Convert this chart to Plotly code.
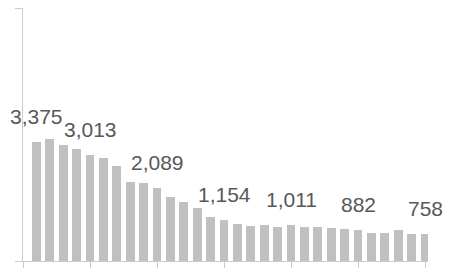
import plotly.graph_objects as go

positions = list(range(1, 31))
values = [3375, 3467, 3313, 3199, 3013, 2934, 2715, 2259, 2214, 2089,
          1823, 1681, 1519, 1245, 1154, 1046, 997, 1017, 969, 1011,
          977, 977, 932, 903, 882, 806, 798, 883, 769, 758]
label_positions = [1, 5, 10, 15, 20, 25, 30]
y_max = 7200
x_ticks = [0, 5, 10, 15, 20, 25, 30]

fig = go.Figure()
fig.add_trace(go.Bar(
    x=positions, y=values, width=0.65,
    marker=dict(color="#c0c0c0", line=dict(width=0)),
    hoverinfo="skip",
))

for p in label_positions:
    v = values[p - 1]
    fig.add_annotation(
        x=p, y=v, text=f"{v:,}", showarrow=False,
        yanchor="bottom", xanchor="center", yshift=12,
        font=dict(family="Liberation Sans, Arial", size=21, color="#585858"),
    )

fig.update_layout(
    width=447, height=260,
    margin=dict(l=15, r=27, t=0, b=7, pad=0),
    paper_bgcolor="white", plot_bgcolor="white",
    showlegend=False,
    bargap=0,
    xaxis=dict(range=[0, 30.22], showgrid=False, zeroline=False,
               showline=True, linecolor="#cccccc", linewidth=1,
               ticks="outside", ticklen=7, tickcolor="#cccccc",
               tickvals=x_ticks, showticklabels=False),
    yaxis=dict(range=[0, y_max], showgrid=False, zeroline=False,
               showline=True, linecolor="#cccccc", linewidth=1,
               ticks="outside", ticklen=7, tickcolor="#cccccc",
               tickvals=[0, y_max], showticklabels=False),
)

fig.write_html("out.html")
